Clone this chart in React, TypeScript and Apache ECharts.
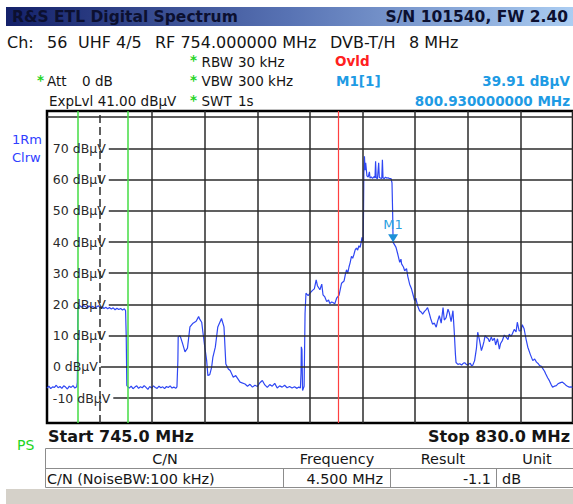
import React, { useEffect, useRef } from "react";
import * as echarts from "echarts";

// ---- Data ----
const startMHz = 745.0;
const stopMHz = 830.0;
const refTopDbuv = 82;
const refBottomDbuv = -18;

const levelTicks = [-10, 0, 10, 20, 30, 40, 50, 60, 70];
const topGridLevel = 80;
const freqDivisionsMHz = [753.5, 762, 770.5, 779, 787.5, 796, 804.5, 813, 821.5, 830];
const channelEdgesMHz = [750.0, 758.0];
const redLineMHz = 792.0;
const marker1 = { name: "M1", freq: 800.93, level: 39.91 };

const traceChannel56: [number, number][] = [
  [745.0, -6.8], [745.3, -6.2], [745.6, -7.0], [745.9, -6.4], [746.2, -6.6], [746.5, -5.9], [746.8, -6.7],
  [747.1, -6.3], [747.4, -6.9], [747.7, -6.1], [748.0, -6.5], [748.3, -7.1], [748.6, -6.2], [748.9, -6.6],
  [749.2, -6.0], [749.5, -6.8], [749.8, -6.4], [749.9, -5.0], [750.0, 18.5], [750.1, 19.8], [750.3, 19.6],
  [750.6, 19.1], [750.9, 19.7], [751.2, 19.3], [751.5, 18.9], [751.8, 19.5], [752.1, 19.0], [752.4, 19.4],
  [752.7, 18.8], [753.0, 19.2], [753.3, 19.6], [753.6, 18.9], [753.9, 19.3], [754.2, 18.7], [754.5, 19.1],
  [754.8, 18.6], [755.1, 19.0], [755.4, 18.5], [755.7, 18.9], [756.0, 18.3], [756.3, 18.8], [756.6, 18.4],
  [756.9, 18.7], [757.2, 18.2], [757.5, 18.6], [757.7, 18.0], [757.8, 10.0], [757.9, -6.0],
];

const traceNoiseA: [number, number][] = [
  [758.3, -6.8], [758.6, -6.2], [758.9, -7.0], [759.2, -6.5], [759.5, -6.1], [759.8, -6.9], [760.1, -6.4],
  [760.4, -6.7], [760.7, -6.0], [761.0, -6.6], [761.3, -7.2], [761.6, -6.3], [761.9, -6.8], [762.2, -6.1],
  [762.5, -6.6], [762.8, -6.9], [763.1, -6.2], [763.4, -6.7], [763.7, -6.4], [764.0, -7.0], [764.3, -6.3],
  [764.6, -6.6], [764.9, -6.1], [765.2, -6.8], [765.5, -6.5], [765.8, -6.9], [766.0, -6.4],
];

const traceBumps: [number, number][] = [
  [766.15, 2.0], [766.2, 9.6], [766.5, 10.0], [766.9, 7.5], [767.3, 4.8], [767.7, 6.0], [768.1, 12.8],
  [768.6, 14.0], [769.1, 14.6], [769.5, 16.1], [769.7, 15.2], [770.0, 14.3], [770.2, 11.0], [770.5, 6.3],
  [770.8, 2.0], [771.0, -2.8], [771.3, -2.5], [771.6, -0.2], [771.8, 3.0], [772.2, 6.3], [772.6, 12.8],
  [773.2, 15.5], [773.6, 12.8], [773.9, 0.9], [774.3, -0.7], [774.6, -1.2], [775.1, -3.3], [775.5, -2.8],
  [776.2, -4.9], [777.0, -5.5],
];

const traceNoiseB: [number, number][] = [
  [777.4, -6.2], [777.8, -5.6], [778.2, -6.5], [778.6, -5.9], [779.0, -6.3], [779.4, -5.1], [779.8, -4.4],
  [780.2, -5.8], [780.6, -6.6], [781.0, -5.7], [781.4, -6.2], [781.8, -5.3], [782.2, -6.8], [782.6, -6.1],
  [783.0, -6.5], [783.4, -5.9], [783.8, -6.7], [784.2, -6.3], [784.6, -6.8], [785.0, -6.4], [785.4, -6.9],
  [785.7, -6.5], [785.95, -6.8],
];

const traceShoulder: [number, number][] = [
  [786.05, -2.0], [786.1, 6.4], [786.2, 5.5], [786.3, -7.6], [786.55, -6.2], [786.7, 17.0], [786.85, 23.6],
  [787.2, 22.8], [787.5, 23.6], [787.9, 24.5], [788.2, 25.0], [788.5, 27.9], [788.7, 26.0], [789.1, 24.7],
  [789.4, 26.5], [789.6, 23.1], [789.9, 22.4], [790.2, 20.9], [790.5, 21.4], [790.7, 20.3], [791.0, 20.8],
  [791.2, 20.6], [791.5, 20.2], [791.8, 22.0], [792.2, 23.0], [792.6, 26.8], [793.0, 27.5], [793.2, 29.5],
  [793.4, 31.1], [793.6, 30.0], [793.8, 32.0], [794.0, 33.5], [794.2, 35.4], [794.4, 34.8], [794.6, 36.0],
  [794.8, 37.5], [795.0, 38.1], [795.2, 37.4], [795.4, 38.8], [795.6, 38.3], [795.8, 40.2], [795.9, 41.5],
  [796.0, 40.0], [796.1, 40.5],
];

const tracePlateau: [number, number][] = [
  [796.15, 50.0], [796.2, 62.0], [796.3, 67.5], [796.4, 63.0], [796.5, 65.4], [796.6, 65.4], [796.7, 61.2],
  [796.9, 60.8], [797.1, 62.5], [797.2, 60.5], [797.4, 60.9], [797.6, 60.4], [797.9, 61.0], [798.0, 60.5],
  [798.1, 65.9], [798.2, 60.6], [798.4, 60.3], [798.6, 65.4], [798.7, 60.7], [798.9, 60.5], [799.1, 60.4],
  [799.2, 66.4], [799.3, 60.6], [799.5, 60.3], [799.7, 60.8], [799.9, 60.5], [800.1, 60.6], [800.3, 60.4],
  [800.6, 60.3], [800.75, 59.0], [800.85, 50.0], [800.93, 39.91],
];

const traceSlope: [number, number][] = [
  [801.2, 39.0], [801.4, 38.3], [801.7, 36.0], [802.0, 33.5], [802.2, 34.5], [802.3, 33.0], [802.6, 32.0],
  [802.8, 30.8], [803.1, 31.5], [803.3, 29.0], [803.6, 26.5], [803.9, 25.0], [804.1, 23.5], [804.4, 21.2],
  [804.6, 22.0], [804.9, 19.5], [805.2, 18.0], [805.5, 17.5], [805.7, 16.9], [806.0, 17.8], [806.2, 18.2],
  [806.5, 19.0], [806.8, 17.0], [807.0, 15.5], [807.3, 13.7], [807.6, 14.0], [807.9, 12.7], [808.1, 14.5],
  [808.4, 16.4], [808.7, 14.0], [809.0, 19.0], [809.2, 15.0], [809.5, 15.8], [809.8, 18.5], [810.0, 17.4],
  [810.3, 14.5], [810.6, 18.0], [810.8, 11.6], [811.0, 4.0], [811.1, 1.4],
];

const traceUpper: [number, number][] = [
  [811.4, 0.8], [811.7, 1.0], [812.0, 0.6], [812.3, 1.2], [812.5, 1.3], [812.8, 0.7], [813.0, 0.6],
  [813.2, 1.0], [813.4, 1.1], [813.6, 0.4], [813.8, 0.5], [814.1, 2.0], [814.4, 6.0], [814.6, 11.1],
  [814.9, 8.5], [815.2, 5.2], [815.4, 6.5], [815.6, 8.0], [815.8, 10.0], [816.0, 9.5], [816.3, 9.0],
  [816.5, 8.0], [816.8, 9.6], [817.0, 8.4], [817.3, 9.2], [817.5, 7.0], [817.8, 9.0], [818.1, 5.7],
  [818.3, 7.5], [818.6, 8.5], [818.9, 10.2], [819.2, 9.5], [819.5, 8.7], [819.7, 10.5], [820.0, 9.8],
  [820.2, 10.6], [820.5, 12.0], [820.8, 11.2], [821.0, 14.3], [821.3, 11.5], [821.6, 11.6], [821.8, 13.5],
  [822.1, 12.2], [822.4, 9.0], [822.7, 6.3], [823.1, 4.0], [823.5, 2.0], [823.8, 2.5], [824.1, 1.5],
  [824.4, 1.0], [824.6, 0.4], [824.9, 0.2], [825.1, -0.5], [825.4, -1.4], [825.6, -2.3], [825.9, -3.5],
  [826.2, -4.5], [826.5, -5.8], [826.7, -6.5], [827.0, -6.2], [827.3, -6.0], [827.6, -5.4], [827.8, -5.2],
  [828.1, -5.0], [828.3, -4.9], [828.6, -5.4], [828.8, -5.8], [829.1, -6.2], [829.4, -6.5], [829.7, -6.4],
  [830.0, -6.6],
];

const tableHeaders = ["C/N", "Frequency", "Result", "Unit"];
const tableRow = ["C/N (NoiseBW:100 kHz)", "4.500 MHz", "-1.1", "dB"];

// ---- Layout / style ----
const W = 573;
const H = 504;
const FONT = "DejaVu Sans";
const GRID = { left: 47, top: 111, width: 528, height: 312 };
const LABEL_FONT_SIZE = 12.5;

export default function App() {
  const ref = useRef<HTMLDivElement>(null);

  useEffect(() => {
    document.body.style.margin = "0";
    document.body.style.background = "#ffffff";
    if (!ref.current) return;
    const chart = echarts.init(ref.current, null, { renderer: "svg", width: W, height: H });

    const trace = [
      ...traceChannel56, ...traceNoiseA, ...traceBumps, ...traceNoiseB,
      ...traceShoulder, ...tracePlateau, ...traceSlope, ...traceUpper,
    ];

    const ctx = document.createElement("canvas").getContext("2d");
    const textWidth = (t: string) => {
      if (!ctx) return t.length * 7.5;
      ctx.font = `${LABEL_FONT_SIZE}px "${FONT}"`;
      return ctx.measureText(t).width;
    };
    const pxToMHz = (px: number) =>
      startMHz + ((px - GRID.left) / GRID.width) * (stopMHz - startMHz) * (GRID.width / 527);

    const hLines: any[] = levelTicks.map((v) => {
      const name = `${v} dBµV`;
      const startPx = GRID.left + 6 + textWidth(name) + 3;
      return [
        { name, coord: [pxToMHz(startPx), v] },
        { coord: [stopMHz, v] },
      ];
    });
    hLines.push([
      { name: "", coord: [startMHz, topGridLevel], label: { show: false } },
      { coord: [stopMHz, topGridLevel] },
    ]);

    const vLines = freqDivisionsMHz.map((f, i) =>
      i === 0 ? { xAxis: f, lineStyle: { type: [8, 4] } } : { xAxis: f }
    );

    const txt = (
      text: string, x: number, y: number, opts: any = {}
    ) => ({
      type: "text",
      silent: true,
      style: {
        text, x, y,
        fill: opts.fill || "#151515",
        fontSize: opts.size || 13.5,
        fontFamily: FONT,
        fontWeight: opts.weight || "normal",
        align: opts.align || "left",
        verticalAlign: "middle",
      },
      z: 100,
    });

    const green = "#22d422";
    const mBlue = "#1e9be4";
    const colX = [45, 283, 390, 496, 575];

    const graphics: any[] = [
      {
        type: "rect", silent: true, z: 90,
        shape: { x: 6, y: 7, width: 567, height: 19 },
        style: {
          fill: new echarts.graphic.LinearGradient(0, 0, 1, 0, [
            { offset: 0, color: "#14216a" },
            { offset: 0.5, color: "#5873b4" },
            { offset: 1, color: "#abcdf2" },
          ]),
        },
      },
      txt("R&S ETL Digital Spectrum", 12, 16.5, { size: 15.5, weight: "bold", fill: "#0c1030" }),
      txt("S/N 101540, FW 2.40", 568, 16.5, { size: 15.5, weight: "bold", fill: "#0c1030", align: "right" }),
      txt("Ch:", 7, 42, { size: 16 }),
      txt("56", 47, 42, { size: 16 }),
      txt("UHF 4/5", 78, 42, { size: 16 }),
      txt("RF 754.000000 MHz", 155, 42, { size: 16 }),
      txt("DVB-T/H", 330, 42, { size: 16 }),
      txt("8 MHz", 409, 42, { size: 16 }),
      txt("*", 190, 60, { fill: green, weight: "bold" }),
      txt("RBW", 201.5, 61.5),
      txt("30 kHz", 238, 61.5),
      txt("Ovld", 335, 61, { fill: "#ff2020", weight: "bold" }),
      txt("*", 37, 80, { fill: green, weight: "bold" }),
      txt("Att", 47, 81),
      txt("0 dB", 82, 81),
      txt("*", 190, 80, { fill: green, weight: "bold" }),
      txt("VBW", 201.5, 81),
      txt("300 kHz", 238, 81),
      txt("M1[1]", 336, 81, { fill: mBlue, weight: "bold" }),
      txt(`${marker1.level.toFixed(2)} dBµV`, 570, 81, { fill: mBlue, weight: "bold", align: "right" }),
      txt("ExpLvl 41.00 dBµV", 49, 100.5),
      txt("*", 190, 99.5, { fill: green, weight: "bold" }),
      txt("SWT", 201.5, 100.5),
      txt("1s", 238, 100.5),
      txt(`${marker1.freq.toFixed(9)} MHz`, 570, 101, { fill: mBlue, weight: "bold", align: "right" }),
      txt("1Rm", 12, 139, { fill: "#3040ff", size: 13 }),
      txt("Clrw", 12, 157, { fill: "#3040ff", size: 13 }),
      txt(`Start ${startMHz.toFixed(1)} MHz`, 48, 436.5, { size: 16, weight: "bold" }),
      txt(`Stop ${stopMHz.toFixed(1)} MHz`, 570, 436.5, { size: 16, weight: "bold", align: "right" }),
      txt("PS", 17, 444.5, { fill: green, size: 14 }),
      // table
      {
        type: "rect", silent: true, z: 95,
        shape: { x: 45.5, y: 448.5, width: 540, height: 39 },
        style: { fill: "#ffffff", stroke: "#8c8c8c", lineWidth: 1 },
      },
      {
        type: "line", silent: true, z: 96,
        shape: { x1: 45.5, y1: 468.5, x2: 573, y2: 468.5 },
        style: { stroke: "#8c8c8c", lineWidth: 1 },
      },
      ...[1, 2, 3].map((i) => ({
        type: "line", silent: true, z: 96,
        shape: { x1: colX[i] + 0.5, y1: 468.5, x2: colX[i] + 0.5, y2: 487.5 },
        style: { stroke: "#8c8c8c", lineWidth: 1 },
      })),
      txt(tableHeaders[0], 165, 458.5, { size: 14.4, align: "center" }),
      txt(tableHeaders[1], 337, 458.5, { size: 14.4, align: "center" }),
      txt(tableHeaders[2], 443, 458.5, { size: 14.4, align: "center" }),
      txt(tableHeaders[3], 537, 458.5, { size: 14.4, align: "center" }),
      txt(tableRow[0], 47, 478.5, { size: 14.4 }),
      txt(tableRow[1], 383, 478.5, { size: 14.4, align: "right" }),
      txt(tableRow[2], 491, 478.5, { size: 14.4, align: "right" }),
      txt(tableRow[3], 502, 478.5, { size: 14.4 }),
      {
        type: "rect", silent: true, z: 90,
        shape: { x: 6, y: 489, width: 567, height: 15 },
        style: { fill: "#d5d1c9" },
      },
    ];

    const option: any = {
      animation: false,
      backgroundColor: "#ffffff",
      grid: {
        left: GRID.left, top: GRID.top, width: GRID.width, height: GRID.height,
        show: true, borderColor: "#000000", borderWidth: 2.5, backgroundColor: "transparent",
      },
      xAxis: {
        type: "value", min: startMHz, max: stopMHz,
        axisLine: { show: false }, axisTick: { show: false }, axisLabel: { show: false },
        splitLine: { show: false },
      },
      yAxis: {
        type: "value", min: refBottomDbuv, max: refTopDbuv,
        axisLine: { show: false }, axisTick: { show: false }, axisLabel: { show: false },
        splitLine: { show: false },
      },
      series: [
        {
          type: "line", name: "hgrid", data: [], silent: true, z: 1,
          markLine: {
            silent: true, animation: false, symbol: ["none", "none"],
            lineStyle: { color: "#2b2b2b", width: 1.5, type: "solid" },
            emphasis: { disabled: true },
            label: {
              show: true, position: "start", distance: 3, formatter: "{b}",
              color: "#2a2a2a", fontSize: LABEL_FONT_SIZE, fontFamily: FONT,
            },
            data: hLines,
          },
        },
        {
          type: "line", name: "vgrid", data: [], silent: true, z: 1,
          markLine: {
            silent: true, animation: false, symbol: ["none", "none"],
            lineStyle: { color: "#2b2b2b", width: 1.5, type: "solid" },
            emphasis: { disabled: true },
            label: { show: false },
            data: vLines,
          },
        },
        {
          type: "line", name: "limits", data: [], silent: true, z: 2,
          markLine: {
            silent: true, animation: false, symbol: ["none", "none"],
            emphasis: { disabled: true },
            label: { show: false },
            data: [
              ...channelEdgesMHz.map((f) => ({ xAxis: f, lineStyle: { color: "#44dd44", width: 1.5, type: "solid" } })),
              { xAxis: redLineMHz, lineStyle: { color: "#ff4040", width: 1.2, type: "solid" } },
            ],
          },
        },
        {
          type: "line", name: "Trace 1", data: trace, z: 3,
          showSymbol: false, symbol: "none", smooth: false,
          lineStyle: { color: "#2f47f3", width: 1.2 },
          emphasis: { disabled: true },
          markPoint: {
            silent: true, animation: false,
            data: [
              {
                coord: [marker1.freq, marker1.level],
                symbol: "triangle", symbolRotate: 180, symbolSize: [10, 8], symbolOffset: [0, -4],
                itemStyle: { color: "#1e90d8" },
                label: {
                  show: true, formatter: marker1.name, position: "top", distance: 3,
                  color: "#2a9fe0", fontSize: 13, fontFamily: FONT,
                },
              },
            ],
          },
        },
      ],
      graphic: graphics,
    };

    chart.setOption(option);
    return () => chart.dispose();
  }, []);

  return <div ref={ref} style={{ width: W, height: H, background: "#ffffff" }} />;
}
